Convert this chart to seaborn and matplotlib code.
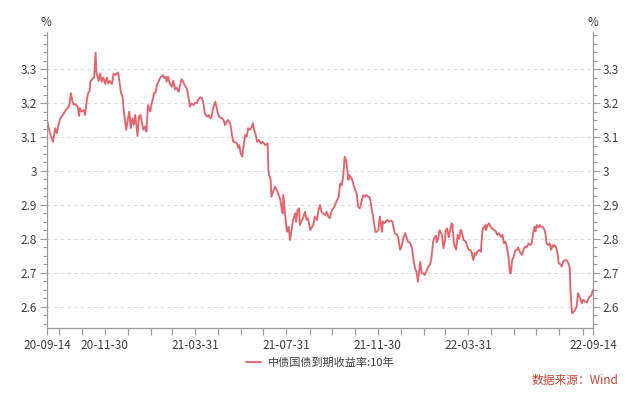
import numpy as np
import pandas as pd
import matplotlib
matplotlib.use("Agg")
import matplotlib.pyplot as plt
from matplotlib.ticker import MultipleLocator, FuncFormatter, NullFormatter
import seaborn as sns

# ---------------- data ----------------
start_date = "2020-09-14"
end_date = "2022-09-14"
day_offsets = [
    0, 2, 4, 8, 11, 13, 15, 18, 22, 25, 28, 30, 32, 34, 36,
    38, 41, 43, 44, 46, 49, 51, 53, 55, 57, 58, 61, 63, 65, 66,
    69, 71, 73, 75, 78, 80, 82, 84, 87, 89, 91, 95, 96, 99, 101,
    103, 106, 108, 110, 112, 114, 116, 118, 119, 121, 123, 125, 127, 129, 131,
    133, 135, 138, 140, 142, 143, 145, 147, 150, 152, 155, 157, 159, 160, 162,
    164, 167, 169, 171, 173, 176, 178, 180, 182, 184, 187, 189, 191, 193, 196,
    198, 200, 202, 205, 207, 209, 211, 214, 216, 218, 220, 222, 225, 227, 229,
    231, 234, 236, 238, 240, 242, 245, 247, 249, 251, 254, 256, 257, 259, 261,
    262, 265, 267, 269, 271, 274, 275, 277, 279, 281, 283, 286, 288, 290, 292,
    295, 296, 297, 299, 300, 303, 305, 307, 309, 312, 314, 315, 316, 318, 320,
    321, 323, 325, 327, 329, 332, 333, 335, 337, 338, 341, 343, 345, 347, 349,
    352, 354, 356, 358, 361, 363, 365, 367, 369, 372, 374, 376, 378, 381, 383,
    385, 387, 390, 392, 394, 396, 398, 400, 402, 403, 404, 406, 408, 410, 412,
    414, 416, 418, 419, 421, 423, 425, 427, 430, 432, 434, 436, 439, 441, 443,
    445, 448, 449, 451, 453, 455, 457, 460, 462, 463, 465, 468, 470, 472, 474,
    476, 479, 481, 483, 485, 488, 490, 492, 494, 496, 497, 499, 501, 503, 505,
    508, 510, 512, 514, 516, 517, 520, 521, 523, 525, 528, 530, 532, 533, 535,
    537, 539, 541, 542, 544, 545, 547, 549, 551, 553, 554, 556, 557, 560, 562,
    564, 566, 568, 570, 572, 574, 575, 578, 580, 582, 583, 586, 587, 589, 591,
    593, 595, 598, 600, 602, 604, 607, 609, 611, 613, 615, 617, 619, 620, 622,
    624, 626, 628, 630, 632, 635, 637, 639, 641, 644, 646, 648, 650, 652, 653,
    655, 657, 659, 660, 662, 664, 666, 668, 670, 672, 674, 676, 677, 679, 681,
    683, 684, 687, 688, 690, 693, 695, 697, 699, 700, 702, 704, 706, 708, 710,
    713, 715, 717, 719, 722, 724, 726, 728, 730,
]
yields = [
    3.150, 3.129, 3.111, 3.086, 3.126, 3.111, 3.133, 3.155, 3.168, 3.179, 3.186, 3.195, 3.229, 3.204, 3.195,
    3.197, 3.189, 3.162, 3.185, 3.175, 3.179, 3.165, 3.204, 3.229, 3.236, 3.263, 3.272, 3.275, 3.348, 3.292,
    3.265, 3.287, 3.263, 3.275, 3.256, 3.275, 3.258, 3.265, 3.256, 3.287, 3.282, 3.290, 3.277, 3.229, 3.220,
    3.170, 3.121, 3.150, 3.175, 3.126, 3.155, 3.136, 3.165, 3.145, 3.103, 3.160, 3.165, 3.140, 3.121, 3.131,
    3.116, 3.194, 3.175, 3.199, 3.214, 3.229, 3.230, 3.253, 3.268, 3.277, 3.282, 3.273, 3.277, 3.263, 3.277,
    3.258, 3.248, 3.266, 3.240, 3.246, 3.233, 3.253, 3.270, 3.263, 3.253, 3.243, 3.219, 3.189, 3.199, 3.194,
    3.201, 3.199, 3.209, 3.217, 3.215, 3.200, 3.170, 3.160, 3.165, 3.155, 3.160, 3.184, 3.204, 3.184, 3.165,
    3.158, 3.155, 3.150, 3.135, 3.145, 3.150, 3.140, 3.111, 3.086, 3.086, 3.081, 3.067, 3.076, 3.052, 3.042,
    3.061, 3.106, 3.101, 3.126, 3.121, 3.130, 3.140, 3.121, 3.106, 3.086, 3.091, 3.081, 3.086, 3.081, 3.076,
    3.081, 3.003, 2.988, 2.974, 2.924, 2.944, 2.954, 2.944, 2.934, 2.915, 2.885, 2.875, 2.930, 2.880, 2.836,
    2.821, 2.836, 2.797, 2.826, 2.856, 2.876, 2.850, 2.885, 2.890, 2.841, 2.856, 2.866, 2.880, 2.856, 2.861,
    2.826, 2.834, 2.841, 2.866, 2.856, 2.885, 2.900, 2.880, 2.875, 2.870, 2.880, 2.866, 2.861, 2.885, 2.890,
    2.900, 2.910, 2.924, 2.963, 2.958, 2.983, 3.042, 3.032, 2.993, 2.974, 2.988, 2.983, 2.974, 2.958, 2.944,
    2.934, 2.895, 2.890, 2.895, 2.915, 2.929, 2.924, 2.929, 2.924, 2.920, 2.890, 2.866, 2.821, 2.821, 2.826,
    2.866, 2.821, 2.851, 2.846, 2.851, 2.856, 2.851, 2.854, 2.851, 2.836, 2.817, 2.812, 2.800, 2.768, 2.778,
    2.800, 2.817, 2.802, 2.790, 2.790, 2.773, 2.738, 2.714, 2.704, 2.674, 2.694, 2.733, 2.699, 2.699, 2.694,
    2.709, 2.719, 2.724, 2.743, 2.787, 2.800, 2.810, 2.790, 2.800, 2.826, 2.812, 2.773, 2.795, 2.826, 2.831,
    2.805, 2.826, 2.846, 2.844, 2.787, 2.780, 2.768, 2.812, 2.800, 2.826, 2.826, 2.806, 2.797, 2.792, 2.777,
    2.768, 2.768, 2.758, 2.738, 2.758, 2.753, 2.762, 2.768, 2.762, 2.817, 2.831, 2.841, 2.826, 2.841, 2.846,
    2.836, 2.831, 2.826, 2.822, 2.812, 2.817, 2.806, 2.812, 2.787, 2.792, 2.773, 2.748, 2.699, 2.699, 2.738,
    2.748, 2.765, 2.768, 2.775, 2.763, 2.753, 2.768, 2.777, 2.775, 2.787, 2.782, 2.787, 2.817, 2.836, 2.822,
    2.841, 2.834, 2.841, 2.836, 2.836, 2.831, 2.822, 2.787, 2.782, 2.787, 2.768, 2.782, 2.777, 2.782, 2.773,
    2.753, 2.729, 2.724, 2.719, 2.733, 2.738, 2.736, 2.729, 2.714, 2.640, 2.581, 2.585, 2.591, 2.600, 2.640,
    2.625, 2.611, 2.621, 2.616, 2.613, 2.625, 2.630, 2.635, 2.650,
]
series_name = "中债国债到期收益率:10年"
y_ticks = [2.6, 2.7, 2.8, 2.9, 3.0, 3.1, 3.2, 3.3]
x_label_dates = ["2020-09-14", "2020-11-30", "2021-03-31", "2021-07-31",
                 "2021-11-30", "2022-03-31", "2022-09-14"]
unit_label = "%"
source_text = "数据来源：Wind"

assert len(day_offsets) == len(yields)

# ---------------- styling ----------------
sns.set_style("white")
plt.rcParams["font.family"] = ["Noto Sans CJK SC", "DejaVu Sans"]

line_color = "#E5646B"
axis_color = "#9a9a9a"
text_color = "#404040"

start = pd.Timestamp(start_date)
end = pd.Timestamp(end_date)
df = pd.DataFrame({
    "date": start + pd.to_timedelta(day_offsets, unit="D"),
    "yield": yields,
})

fig = plt.figure(figsize=(6.4, 3.93), dpi=100)
ax = fig.add_axes([47 / 640, 65 / 393, 546 / 640, 296 / 393])

sns.lineplot(data=df, x="date", y="yield", ax=ax, color=line_color,
             linewidth=1.35, label=series_name, legend=False)

ax.set_xlim(start, end)
ax.set_ylim(2.538, 3.409)
ax.set_xlabel("")
ax.set_ylabel("")

# y axis: both sides
ax.set_yticks(y_ticks)
ax.yaxis.set_minor_locator(MultipleLocator(0.025))
ax.yaxis.set_major_formatter(FuncFormatter(lambda v, p: f"{v:g}"))
ax.tick_params(axis="y", which="both", left=True, right=True,
               labelleft=True, labelright=True, direction="out",
               color=axis_color, labelcolor=text_color, labelsize=8.5, pad=2)
ax.tick_params(axis="y", which="major", length=5, width=0.8)
ax.tick_params(axis="y", which="minor", length=3, width=0.8)
ax.yaxis.grid(True, which="major", linestyle=(0, (3, 3)), color="#dcdcdc", linewidth=0.8)
ax.xaxis.grid(False)

# x axis: month-end ticks, a few labelled
month_ends = pd.date_range(start, end, freq="ME")
tick_dates = [start] + list(month_ends) + [end]
label_set = set(pd.to_datetime(x_label_dates))
ax.set_xticks(tick_dates)
ax.set_xticklabels([d.strftime("%y-%m-%d") if d in label_set else "" for d in tick_dates])
ax.tick_params(axis="x", which="major", bottom=True, direction="out", length=5,
               width=0.8, color=axis_color, labelcolor=text_color, labelsize=8.5, pad=3)

for side in ["left", "right", "bottom"]:
    ax.spines[side].set_visible(True)
    ax.spines[side].set_color(axis_color)
    ax.spines[side].set_linewidth(0.9)
ax.spines["top"].set_visible(False)

# unit labels
fig.text(46 / 640, 1 - 22 / 393, unit_label, ha="center", va="center",
         fontsize=8.5, color=text_color)
fig.text(593 / 640, 1 - 22 / 393, unit_label, ha="center", va="center",
         fontsize=8.5, color=text_color)

# legend
handles, labels = ax.get_legend_handles_labels()
fig.legend(handles, labels, loc="center", bbox_to_anchor=(0.5, 1 - 363 / 393),
           frameon=False, fontsize=8, labelcolor=text_color,
           handlelength=1.4, handletextpad=0.6)

# source note
fig.text(618 / 640, 1 - 380 / 393, source_text, ha="right", va="center",
         fontsize=8.5, color="#C9403A")

fig.savefig("out.png", dpi=100)
